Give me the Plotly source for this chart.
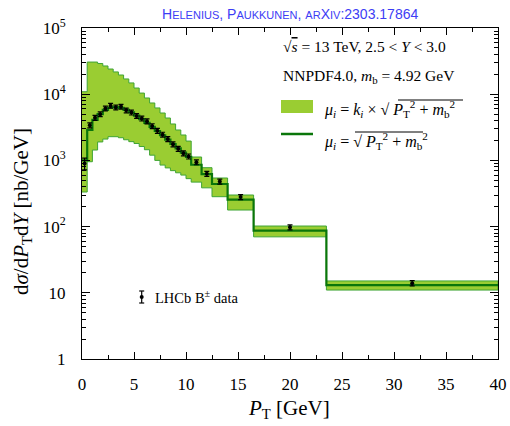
import plotly.graph_objects as go

# ---------------- data ----------------
bin_edges = [0, 0.5, 1.0, 1.5, 2.0, 2.5, 3.0, 3.5, 4.0, 4.5, 5.0, 5.5, 6.0, 6.5, 7.0,
             7.5, 8.0, 8.5, 9.0, 9.5, 10.0, 10.5, 11.5, 12.5, 14.0, 16.5, 23.5, 40.0]

band_upper = [10900, 30600, 30600, 29100, 26700, 24000, 21700, 19500, 17000, 14800,
              12400, 10400, 8770, 7370, 6200, 5200, 4370, 3550, 2880, 2420,
              1960, 1125, 776, 542, 300, 102, 15.1]
band_lower = [333, 955, 1435, 1900, 2100, 2280, 2280, 2200, 2050, 1920,
              1800, 1620, 1450, 1200, 1000, 850, 770, 700, 650, 600,
              530, 470, 385, 283, 178, 70, 11]
central = [1000, 2900, 4100, 5000, 5800, 6300, 6400, 6200, 5800, 5300,
           4750, 4200, 3700, 3200, 2780, 2400, 2060, 1770, 1520, 1310,
           1130, 860, 620, 440, 255, 87, 13.1]

data_pt = [0.25, 0.75, 1.25, 1.75, 2.25, 2.75, 3.25, 3.75, 4.25, 4.75, 5.25, 5.75,
           6.25, 6.75, 7.25, 7.75, 8.25, 8.75, 9.25, 9.75, 10.25, 11.0, 12.0,
           13.25, 15.25, 20.0, 31.75]
data_xsec = [900, 3400, 4400, 5000, 6100, 6700, 6300, 6500, 5700, 5300, 4700, 4300,
             3900, 3300, 2800, 2450, 2100, 1750, 1500, 1280, 1150, 940, 630,
             480, 280, 98, 14]
data_err = [180, 300, 380, 420, 520, 560, 520, 540, 480, 450, 400, 360,
            330, 280, 240, 210, 180, 150, 130, 110, 100, 80, 55,
            42, 25, 8.5, 1.25]

x_tick_vals = [0, 5, 10, 15, 20, 25, 30, 35, 40]
y_tick_vals = [1, 10, 100, 1000, 10000, 100000]
y_tick_text = ["1", "10", "10<sup>2</sup>", "10<sup>3</sup>", "10<sup>4</sup>", "10<sup>5</sup>"]

# ---------------- helpers ----------------
def step_xy(edges, vals):
    xs, ys = [], []
    for i, v in enumerate(vals):
        xs += [edges[i], edges[i + 1]]
        ys += [v, v]
    return xs, ys

ux, uy = step_xy(bin_edges, band_upper)
lx, ly = step_xy(bin_edges, band_lower)

BAND_FILL = "#9acd32"
BAND_EDGE = "#3fa534"
CENTRAL = "#0a760a"
SERIF = "Liberation Serif"

fig = go.Figure()
fig.add_trace(go.Scatter(
    x=ux + lx[::-1], y=uy + ly[::-1], fill="toself", fillcolor=BAND_FILL,
    mode="lines", line=dict(color=BAND_EDGE, width=1), hoverinfo="skip", showlegend=False))
fig.add_trace(go.Scatter(
    x=bin_edges, y=central + [central[-1]], mode="lines", line_shape="hv",
    line=dict(color=CENTRAL, width=2.2), showlegend=False))
fig.add_trace(go.Scatter(
    x=data_pt, y=data_xsec, mode="markers",
    marker=dict(color="black", size=4),
    error_y=dict(type="data", array=data_err, color="black", thickness=1.2, width=2.5),
    showlegend=False))

# geometry of plot area in pixels
L, R, T, B = 82, 498, 28, 359
W, H = R - L, B - T

def px(xp):
    return (xp - L) / W

def py(yp):
    return (B - yp) / H

minor_y = []
for d in range(0, 5):
    for k in range(2, 10):
        minor_y.append(k * 10 ** d)

axis_font = dict(family=SERIF, size=17, color="black")

fig.update_layout(
    width=510, height=426,
    margin=dict(l=L, r=510 - R, t=T, b=426 - B),
    paper_bgcolor="white", plot_bgcolor="white",
    xaxis=dict(range=[0, 40], tickmode="array", tickvals=x_tick_vals, automargin=False,
               ticks="inside", ticklen=7, tickwidth=1, tickcolor="black",
               showline=True, linecolor="black", linewidth=1, mirror="ticks",
               showgrid=False, zeroline=False, tickfont=axis_font,
               ticklabelstandoff=10,
               minor=dict(tickmode="array", tickvals=[2.5, 7.5, 12.5, 17.5, 22.5, 27.5, 32.5, 37.5],
                          ticks="inside", ticklen=4, tickcolor="black", showgrid=False)),
    yaxis=dict(type="log", range=[0, 5], tickmode="array", tickvals=y_tick_vals,
               ticktext=y_tick_text, automargin=False,
               ticks="inside", ticklen=8, tickwidth=1, tickcolor="black",
               showline=True, linecolor="black", linewidth=1, mirror="ticks",
               showgrid=False, zeroline=False, tickfont=axis_font,
               ticklabelstandoff=12,
               minor=dict(tickmode="array", tickvals=minor_y, ticks="inside",
                          ticklen=4, tickcolor="black", showgrid=False)),
)

def small_caps(word, big=14, small=11):
    out = ""
    for ch in word:
        if ch.isupper() or not ch.isalpha():
            out += f"<span style='font-size:{big}px'>{ch.upper()}</span>"
        else:
            out += f"<span style='font-size:{small}px'>{ch.upper()}</span>"
    return out

title_txt = (small_caps("Helenius,") + " " + small_caps("Paukkunen,") + " " +
             small_caps("arXiv") + "<span style='font-size:14px'>:2303.17864</span>")

ann = []
ann.append(dict(text=title_txt, x=px(290), y=py(14), xref="paper", yref="paper",
                showarrow=False, xanchor="center", yanchor="middle",
                font=dict(family="Liberation Sans", size=14, color="#3d3df5")))

ov = "<span style='text-decoration:overline'>"
ann.append(dict(text="√" + ov + "<i>s</i></span> = 13 TeV, 2.5 &lt; <i>Y</i> &lt; 3.0",
                x=px(281), y=py(47), xref="paper", yref="paper", showarrow=False,
                xanchor="left", yanchor="middle", font=dict(family=SERIF, size=15.5, color="black")))
ann.append(dict(text="NNPDF4.0, <i>m</i><sub>b</sub> = 4.92 GeV",
                x=px(281), y=py(76), xref="paper", yref="paper", showarrow=False,
                xanchor="left", yanchor="middle", font=dict(family=SERIF, size=15.5, color="black")))
ann.append(dict(text="<i>μ<sub>i</sub></i> = <i>k<sub>i</sub></i> × √ " +
                "<i>P</i><sub>T</sub><sup>2</sup> + <i>m</i><sub>b</sub><sup>2</sup>",
                x=px(322), y=py(109), xref="paper", yref="paper", showarrow=False,
                xanchor="left", yanchor="middle", font=dict(family=SERIF, size=16, color="black")))
ann.append(dict(text="<i>μ<sub>i</sub></i> = √ " +
                "<i>P</i><sub>T</sub><sup>2</sup> + <i>m</i><sub>b</sub><sup>2</sup>",
                x=px(322), y=py(141), xref="paper", yref="paper", showarrow=False,
                xanchor="left", yanchor="middle", font=dict(family=SERIF, size=16, color="black")))
ann.append(dict(text="LHCb B<sup>±</sup> data",
                x=px(153), y=py(297), xref="paper", yref="paper", showarrow=False,
                xanchor="left", yanchor="middle", font=dict(family=SERIF, size=14.5, color="black")))
# axis titles
ann.append(dict(text="d<i>σ</i>/d<i>P</i><sub>T</sub>d<i>Y</i> [nb/GeV]",
                x=px(22), y=py(212), xref="paper", yref="paper", showarrow=False,
                textangle=-90, xanchor="center", yanchor="middle",
                font=dict(family=SERIF, size=21, color="black")))
ann.append(dict(text="<i>P</i><sub>T</sub> [GeV]",
                x=px(289), y=py(409), xref="paper", yref="paper", showarrow=False,
                xanchor="center", yanchor="middle",
                font=dict(family=SERIF, size=21, color="black")))
fig.update_layout(annotations=ann)

shapes = []
# legend keys
shapes.append(dict(type="rect", xref="paper", yref="paper", x0=px(281), x1=px(313),
                   y0=py(113), y1=py(100), fillcolor=BAND_FILL, line=dict(width=0)))
shapes.append(dict(type="line", xref="paper", yref="paper", x0=px(281), x1=px(313),
                   y0=py(134), y1=py(134), line=dict(color=CENTRAL, width=2.5)))
# radical overlines
shapes.append(dict(type="line", xref="paper", yref="paper", x0=px(398), x1=px(463),
                   y0=py(100), y1=py(100), line=dict(color="black", width=1)))
shapes.append(dict(type="line", xref="paper", yref="paper", x0=px(355), x1=px(423),
                   y0=py(132), y1=py(132), line=dict(color="black", width=1)))
# LHCb key marker
kx = 141.7
shapes.append(dict(type="line", xref="paper", yref="paper", x0=px(kx), x1=px(kx),
                   y0=py(303), y1=py(291), line=dict(color="black", width=1.2)))
for yy in (291, 303):
    shapes.append(dict(type="line", xref="paper", yref="paper", x0=px(kx - 2.5), x1=px(kx + 2.5),
                       y0=py(yy), y1=py(yy), line=dict(color="black", width=1.2)))
shapes.append(dict(type="circle", xref="paper", yref="paper", x0=px(kx - 2), x1=px(kx + 2),
                   y0=py(299), y1=py(295), fillcolor="black", line=dict(color="black", width=0)))
fig.update_layout(shapes=shapes)

fig.write_html("out.html", config={"displayModeBar": False},
               post_script="document.body.style.margin='0px';document.body.style.padding='0px';")
